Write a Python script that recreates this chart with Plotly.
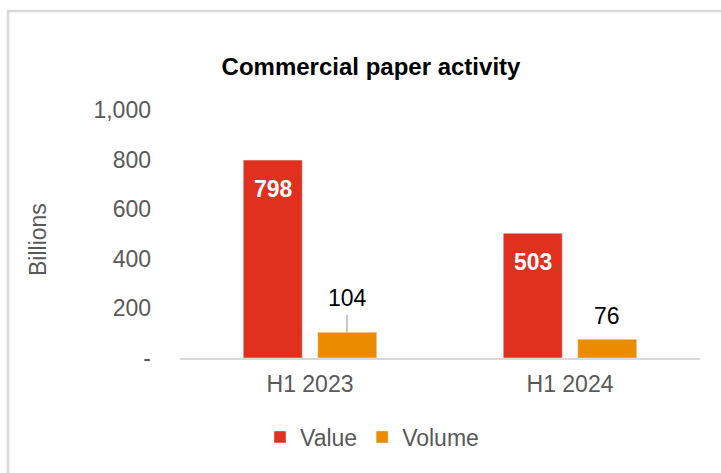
import plotly.graph_objects as go

# Commercial paper activity, value and volume by half-year (billions)
periods = ["H1 2023", "H1 2024"]
value_bn = [798, 503]
volume_bn = [104, 76]
y_ticks = [0, 200, 400, 600, 800, 1000]
y_tick_labels = ["-", "200", "400", "600", "800", "1,000"]

RED = "#E0301E"
ORANGE = "#EB8C00"
GREY_TEXT = "#595959"
FONT = "Liberation Sans, Arial, sans-serif"
FS = 23

W, H = 721, 473
M_L, M_R, M_T, M_B = 180, 21, 110, 115
plot_w = W - M_L - M_R
plot_h = H - M_T - M_B


def px_to_paper_x(px):
    return (px - M_L) / plot_w


def px_to_paper_y(py):
    return (H - M_B - py) / plot_h


fig = go.Figure()
fig.add_trace(go.Bar(name="Value", x=periods, y=value_bn, marker_color=RED,
                     text=[f"{v:,}" for v in value_bn], textposition="none"))
fig.add_trace(go.Bar(name="Volume", x=periods, y=volume_bn, marker_color=ORANGE,
                     text=[f"{v:,}" for v in volume_bn], textposition="none"))

annotations = []
# White bold labels inside the top of the value bars
for p, v in zip(periods, value_bn):
    annotations.append(dict(x=p, y=v, xref="x", yref="y", text=f"<b>{v:,}</b>",
                            showarrow=False, xshift=-37, yshift=-29,
                            font=dict(family=FONT, size=FS, color="white")))
# Volume labels above the bars; the first one sits higher with a leader line
for i, (p, v) in enumerate(zip(periods, volume_bn)):
    if i == 0:
        annotations.append(dict(x=p, y=v, xref="x", yref="y", text=f"{v:,}",
                                showarrow=True, arrowhead=0, arrowwidth=1.2,
                                arrowcolor="#A6A6A6", ax=0, ay=-34,
                                xshift=37, borderpad=3,
                                font=dict(family=FONT, size=FS, color="black")))
    else:
        annotations.append(dict(x=p, y=v, xref="x", yref="y", text=f"{v:,}",
                                showarrow=False, xshift=37, yshift=23,
                                font=dict(family=FONT, size=FS, color="black")))

# Y axis title
annotations.append(dict(x=px_to_paper_x(38), y=px_to_paper_y(240), xref="paper", yref="paper",
                        xanchor="center", yanchor="middle",
                        text="Billions", textangle=-90, showarrow=False,
                        font=dict(family=FONT, size=FS, color=GREY_TEXT)))

fig.update_layout(
    width=W, height=H,
    margin=dict(l=M_L, r=M_R, t=M_T, b=M_B),
    paper_bgcolor="white", plot_bgcolor="white",
    font=dict(family=FONT, size=FS, color=GREY_TEXT),
    title=dict(text="<b>Commercial paper activity</b>", x=(371 / W), xanchor="center",
               y=1 - 67 / H, yanchor="middle",
               font=dict(family=FONT, size=24, color="black")),
    barmode="group", bargap=0.427, bargroupgap=0.208,
    showlegend=True,
    legend=dict(orientation="h", x=px_to_paper_x(372), xanchor="center",
                y=px_to_paper_y(437), yanchor="middle",
                font=dict(family=FONT, size=FS, color=GREY_TEXT),
                itemwidth=30, traceorder="normal"),
    annotations=annotations,
    shapes=[dict(type="rect", xref="paper", yref="paper",
                 x0=px_to_paper_x(8), x1=px_to_paper_x(740),
                 y0=px_to_paper_y(490), y1=px_to_paper_y(11),
                 line=dict(color="#D9D9D9", width=2.5), fillcolor="rgba(0,0,0,0)",
                 layer="below")],
)
fig.update_xaxes(showline=True, linecolor="#D9D9D9", linewidth=1.5, showgrid=False,
                 ticks="", tickfont=dict(family=FONT, size=FS, color=GREY_TEXT),
                 ticklabelstandoff=5)
fig.update_yaxes(range=[0, 1000], tickvals=y_ticks, ticktext=y_tick_labels,
                 showgrid=False, zeroline=False, showline=False, ticks="",
                 ticklabelstandoff=28,
                 tickfont=dict(family=FONT, size=FS, color=GREY_TEXT))

fig.write_html("out.html")
